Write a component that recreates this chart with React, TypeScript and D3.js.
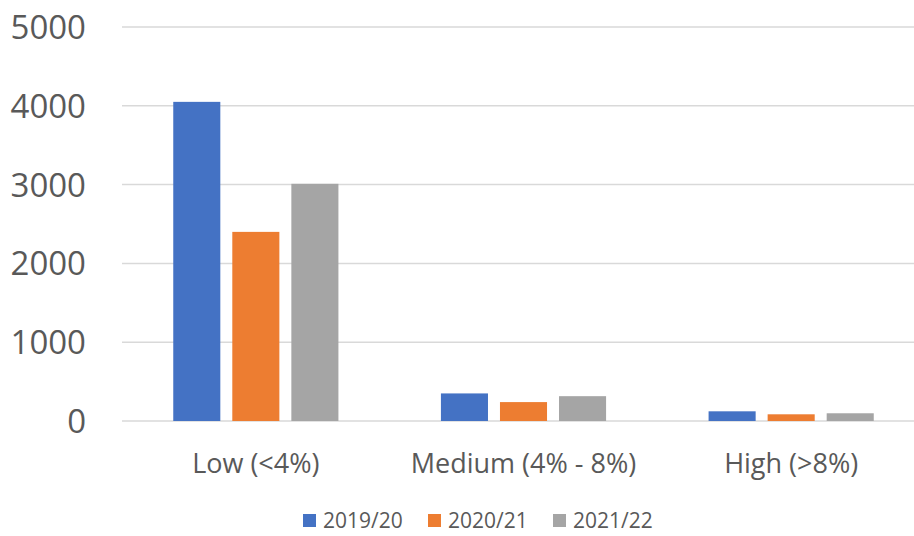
import React from "react";
import * as d3 from "d3";

const categories = ["Low (<4%)", "Medium (4% - 8%)", "High (>8%)"];
const seriesNames = ["2019/20", "2020/21", "2021/22"];
const values2019 = [4050, 350, 123];
const values2020 = [2400, 240, 85];
const values2021 = [3010, 315, 98];
const yTicks = [0, 1000, 2000, 3000, 4000, 5000];
const colors = ["#4472C4", "#ED7D31", "#A5A5A5"];

const W = 914;
const H = 536;
const plotLeft = 122;
const plotRight = 925;
const plotTop = 27;
const plotBottom = 421;
const font = "'Open Sans', 'Liberation Sans', sans-serif";
const textColor = "#595959";

export default function App() {
  const seriesValues = [values2019, values2020, values2021];
  const x0 = d3.scaleBand<string>().domain(categories).range([plotLeft, plotRight]).padding(0);
  const x1 = d3
    .scaleBand<string>()
    .domain(seriesNames)
    .range([0, x0.bandwidth()])
    .paddingInner(0.203)
    .paddingOuter(0.868);
  const y = d3.scaleLinear().domain([0, 5000]).range([plotBottom, plotTop]);

  const legendX = [303, 428, 553];

  return (
    <svg
      width={W}
      height={H}
      style={{ position: "absolute", left: 0, top: 0, background: "#fff" }}
      fontFamily={font}
    >
      {yTicks.map((t) => (
        <g key={t}>
          <line x1={plotLeft} x2={W} y1={y(t)} y2={y(t)} stroke="#D9D9D9" strokeWidth={1.5} />
          <text x={86} y={y(t) + 12} textAnchor="end" fontSize={33} fill={textColor}>
            {t}
          </text>
        </g>
      ))}
      {categories.map((c, ci) => (
        <g key={c}>
          {seriesNames.map((s, si) => {
            const v = seriesValues[si][ci];
            return (
              <rect
                key={s}
                x={(x0(c) ?? 0) + (x1(s) ?? 0)}
                y={y(v)}
                width={x1.bandwidth()}
                height={y(0) - y(v)}
                fill={colors[si]}
              />
            );
          })}
          <text
            x={(x0(c) ?? 0) + x0.bandwidth() / 2}
            y={473}
            textAnchor="middle"
            fontSize={27}
            fill={textColor}
          >
            {c}
          </text>
        </g>
      ))}
      {seriesNames.map((s, i) => (
        <g key={s}>
          <rect x={legendX[i]} y={514} width={13} height={13} fill={colors[i]} />
          <text x={legendX[i] + 20} y={528} fontSize={21} fill={textColor}>
            {s}
          </text>
        </g>
      ))}
    </svg>
  );
}
